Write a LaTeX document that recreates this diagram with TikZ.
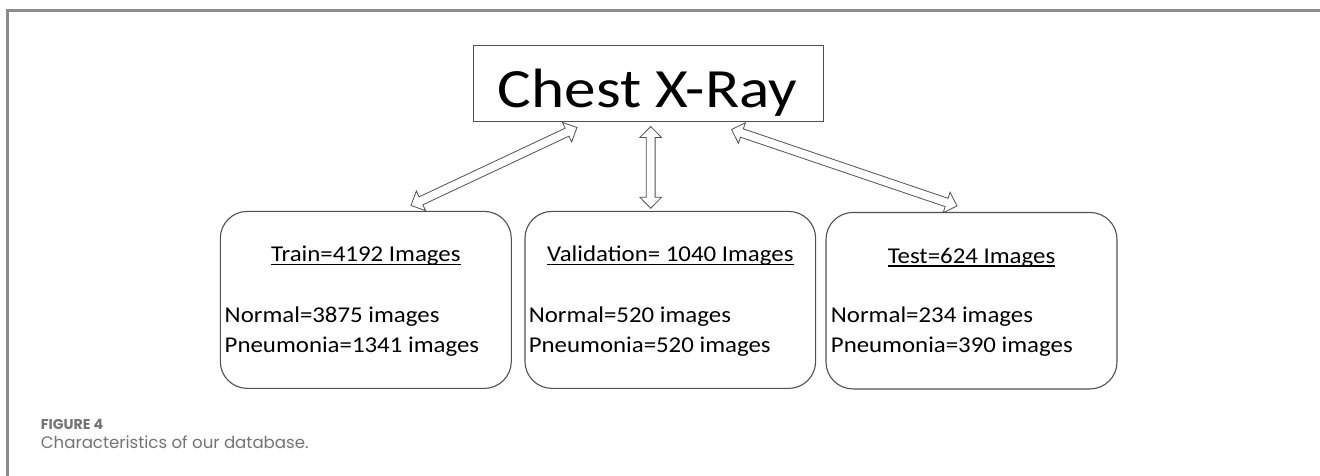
\documentclass[tikz,border=0pt]{standalone}
\usepackage{fontspec}
\setmainfont{Carlito}
\newfontfamily\bigfont[FakeStretch=1.14]{Carlito}
\newfontfamily\boxfont[FakeStretch=1.1]{Carlito}
\newfontfamily\capfont{Poppins}
\usetikzlibrary{calc}
\definecolor{framegray}{HTML}{8C8C8C}
\definecolor{linegray}{HTML}{505050}
\definecolor{capgray}{HTML}{747474}

\newcommand\ulin[1]{\setbox0\hbox{#1}\rlap{\rule[-3.6pt]{\wd0}{1.3pt}}\box0}

\tikzset{
  databox/.style={draw=linegray, line width=1.1pt, rounded corners=27pt,
    minimum width=291pt, minimum height=177pt, inner sep=0pt},
  titlebox/.style={draw=linegray, line width=1pt, minimum width=350pt,
    minimum height=76.7pt, inner sep=0pt},
  boxtext/.style={inner sep=0pt, font=\boxfont\fontsize{22.6}{27}\selectfont},
  hollow/.style={draw=linegray, line width=0.8pt, fill=white, line join=miter},
  frameline/.style={draw=framegray, line width=2.2pt},
  captext/.style={inner sep=0pt, anchor=base west, text=capgray},
}

% #1 = start, #2 = end, #3 = unique prefix
\newcommand\hollowarrow[3]{%
  \coordinate (#3h1) at ($(#1)!11pt!(#2)$);
  \coordinate (#3h2) at ($(#2)!11pt!(#1)$);
  \draw[hollow] (#1)
    -- ($(#3h1)!10.8pt!90:(#2)$) -- ($(#3h1)!4.4pt!90:(#2)$)
    -- ($(#3h2)!4.4pt!-90:(#1)$) -- ($(#3h2)!10.8pt!-90:(#1)$)
    -- (#2)
    -- ($(#3h2)!10.8pt!90:(#1)$) -- ($(#3h2)!4.4pt!90:(#1)$)
    -- ($(#3h1)!4.4pt!-90:(#2)$) -- ($(#3h1)!10.8pt!-90:(#2)$)
    -- cycle;}

\begin{document}
\begin{tikzpicture}[x=1pt, y=-1pt]
\useasboundingbox (0,0) rectangle (1320,476);
\fill[white] (0,0) rectangle (1320,476);

% frame
\draw[frameline] (7.5,476) -- (7.5,10.5) -- (1320,10.5);

% title box
\node[titlebox] (chest) at (648.3,83.4) {};
\node[inner sep=0pt, anchor=base, font=\bigfont\fontsize{55.4}{60}\selectfont] (chestT) at (647.5,107.5) {Chest X-Ray};

% data boxes
\node[databox] (train) at (365.8,299.9) {};
\node[databox, minimum width=290.7pt] (val) at (670.3,299.9) {};
\node[databox, minimum height=176.5pt] (test) at (971.5,300.7) {};

% texts
\node[boxtext, anchor=base] (trainT) at (365.8,261.5) {\ulin{Train=4192 Images}};
\node[boxtext, anchor=base west] (trainN) at (224.5,322.2) {Normal=3875 images};
\node[boxtext, anchor=base west] (trainP) at (224.5,352) {Pneumonia=1341 images};

\node[boxtext, anchor=base] (valT) at (670.3,261.5) {\ulin{Validation= 1040 Images}};
\node[boxtext, anchor=base west] (valN) at (528.6,322.2) {Normal=520 images};
\node[boxtext, anchor=base west] (valP) at (528.6,352) {Pneumonia=520 images};

\node[boxtext, anchor=base] (testT) at (971.5,263) {\ulin{Test=624 Images}};
\node[boxtext, anchor=base west] (testN) at (830.7,322.8) {Normal=234 images};
\node[boxtext, anchor=base west] (testP) at (830.7,352.6) {Pneumonia=390 images};

% arrow end points
\coordinate (aL1) at (411,205.5);
\coordinate (aL2) at (577,127.5);
\coordinate (aM1) at (650.7,126.5);
\coordinate (aM2) at (650.7,208.3);
\coordinate (aR1) at (731.5,129.5);
\coordinate (aR2) at (957,206);

\hollowarrow{aL1}{aL2}{L}
\hollowarrow{aM1}{aM2}{M}
\hollowarrow{aR1}{aR2}{R}

% caption
\node[captext, font=\capfont\bfseries\fontsize{14.2}{17}\selectfont] (figlabel) at (40.7,429.5) {FIGURE 4};
\node[captext, font=\capfont\fontsize{16.6}{20}\selectfont] (figcap) at (40.7,448) {Characteristics of our database.};
\end{tikzpicture}
\end{document}
